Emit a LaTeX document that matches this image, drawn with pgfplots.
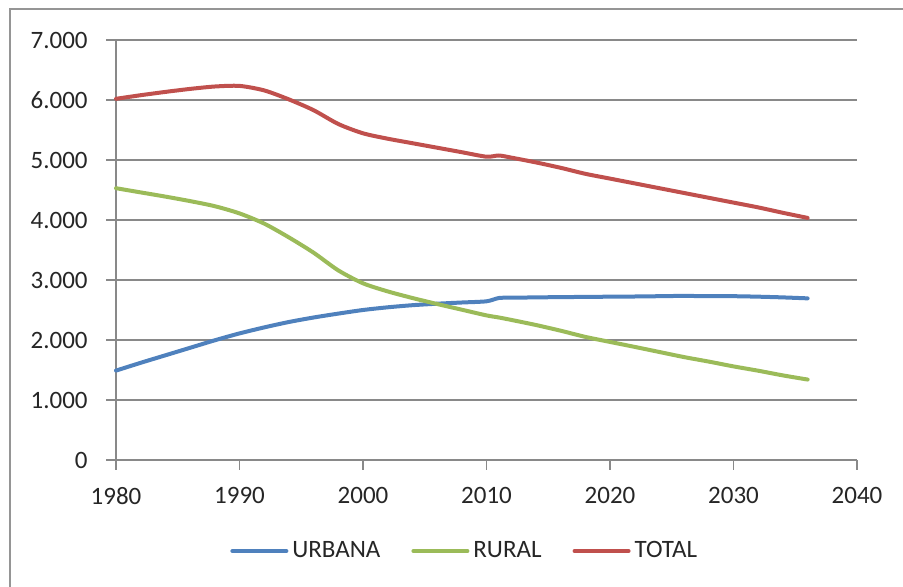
\documentclass[border=0pt]{standalone}
\usepackage{pgfplots}
\pgfplotsset{compat=1.18}
\usepackage{fontspec}
\setmainfont{Carlito}
\definecolor{cblue}{HTML}{4F81BD}
\definecolor{cgreen}{HTML}{9BBB59}
\definecolor{cred}{HTML}{C0504D}
\definecolor{cgrid}{HTML}{898989}
\begin{document}
\begin{tikzpicture}
\useasboundingbox (0,0) rectangle (451.5pt,293.5pt);
\draw[cgrid!90,line width=1pt] (5pt,-2pt) -- (5pt,289pt) -- (455pt,289pt);
\begin{axis}[
  at={(58pt,63.5pt)}, anchor=south west,
  scale only axis, width=370.5pt, height=210pt,
  xmin=1980, xmax=2040, ymin=0, ymax=7000,
  xtick={1980,1990,...,2040},
  xticklabels={1980,1990,2000,2010,2020,2030,2040},
  ytick={0,1000,...,7000},
  yticklabels={0,{1.000},{2.000},{3.000},{4.000},{5.000},{6.000},{7.000}},
  axis x line*=bottom, axis y line*=left,
  axis line style={cgrid, line width=0.6pt, -},
  tick align=outside, major tick length=5pt,
  tick style={cgrid, line width=0.6pt},
  ymajorgrids, grid style={cgrid, line width=0.6pt},
  ticklabel style={font=\fontsize{12.5}{14}\selectfont, text=black!85},
  yticklabel style={anchor=east, inner sep=0pt, xshift=-9pt},
  xticklabel style={anchor=north, inner sep=0pt, yshift=-8.5pt},
  clip=false,
  legend columns=3,
  legend style={draw=none, at={(rel axis cs:0.472,-0.2167)}, anchor=center,
    font=\fontsize{12.5}{14}\selectfont, text=black!85, inner sep=0pt,
    /tikz/every even column/.append style={column sep=13.5pt}},
  legend image code/.code={\draw[#1] (0pt,0pt) -- (27pt,0pt);},
  every axis plot/.append style={line width=2pt, smooth, tension=0.45, line cap=round},
]
\addplot[cblue] coordinates {
(1980,1490) (1982,1620) (1984,1745) (1986,1870) (1988,1995) (1990,2110)
(1992,2210) (1994,2300) (1996,2375) (1998,2440) (2000,2500) (2002,2545)
(2004,2580) (2006,2605) (2008,2625) (2010,2645) (2011,2700) (2012,2705)
(2014,2710) (2016,2715) (2018,2718) (2020,2722) (2022,2725) (2024,2730)
(2026,2735) (2028,2730) (2030,2730) (2032,2722) (2034,2710) (2036,2694)};
\addlegendentry{URBANA}
\addplot[cgreen] coordinates {
(1980,4530) (1982,4460) (1984,4390) (1986,4315) (1988,4230) (1990,4110)
(1992,3940) (1994,3710) (1996,3455) (1998,3160) (2000,2945) (2002,2810)
(2004,2700) (2006,2600) (2008,2505) (2010,2410) (2011,2375) (2012,2335)
(2014,2250) (2016,2155) (2018,2052) (2020,1968) (2022,1885) (2024,1800)
(2026,1715) (2028,1640) (2030,1560) (2032,1488) (2034,1410) (2036,1341)};
\addlegendentry{RURAL}
\addplot[cred] coordinates {
(1980,6020) (1982,6080) (1984,6135) (1986,6185) (1988,6225) (1990,6235)
(1992,6160) (1994,6010) (1996,5830) (1998,5600) (2000,5445) (2002,5355)
(2004,5280) (2006,5205) (2008,5130) (2010,5055) (2011,5075) (2012,5040)
(2014,4960) (2016,4870) (2018,4770) (2020,4690) (2022,4610) (2024,4530)
(2026,4450) (2028,4370) (2030,4290) (2032,4210) (2034,4120) (2036,4035)};
\addlegendentry{TOTAL}
\end{axis}
\end{tikzpicture}
\end{document}
